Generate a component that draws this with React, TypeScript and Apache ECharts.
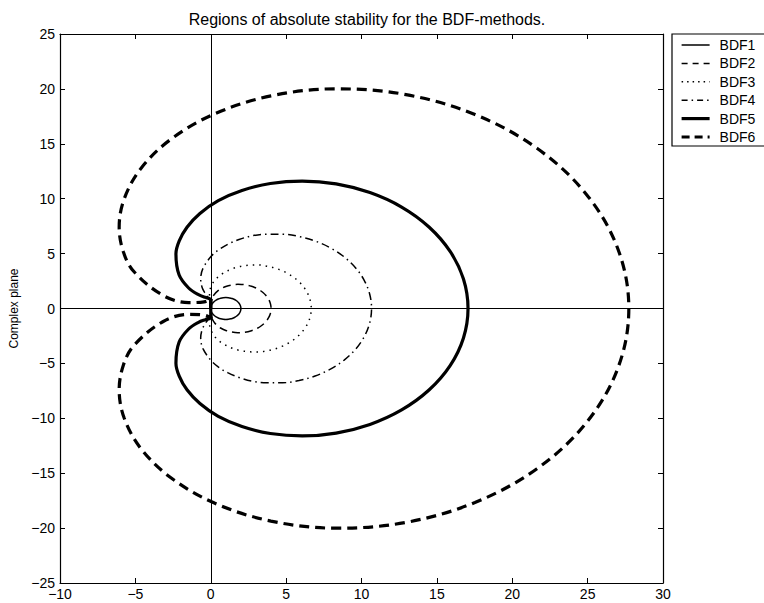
import React, { useEffect, useRef } from "react";
import * as echarts from "echarts";

// Upper half of each boundary-locus curve (x = Re, y = Im); the lower half is its mirror image.
const bdf1Upper: number[][] = [
  [0, 0], [0.0152, 0.1736], [0.0603, 0.342], [0.134, 0.5], [0.234, 0.6428], [0.3572, 0.766],
  [0.5, 0.866], [0.658, 0.9397], [0.8264, 0.9848], [1, 1], [1.1736, 0.9848], [1.342, 0.9397],
  [1.4226, 0.9063], [1.5, 0.866], [1.5736, 0.8192], [1.6428, 0.766], [1.7071, 0.7071], [1.766, 0.6428],
  [1.8192, 0.5736], [1.866, 0.5], [1.9063, 0.4226], [1.9397, 0.342], [1.9659, 0.2588], [1.9848, 0.1736],
  [1.9962, 0.0872], [2, 0],
];
const bdf2Upper: number[][] = [
  [0, 0], [0.0002, 0.1763], [0.0036, 0.3626], [0.018, 0.567], [0.0547, 0.7932], [0.1276, 1.0397],
  [0.25, 1.299], [0.4329, 1.558], [0.6829, 1.7986], [1, 2], [1.3774, 2.1406], [1.801, 2.2008],
  [2.0238, 2.1956], [2.25, 2.1651], [2.4761, 2.1081], [2.6988, 2.0245], [2.9142, 1.9142], [3.1189, 1.778],
  [3.3093, 1.617], [3.4821, 1.433], [3.634, 1.2283], [3.7624, 1.0054], [3.8649, 0.7676], [3.9396, 0.5183],
  [3.9848, 0.2611], [4, 0],
];
const bdf3Upper: number[][] = [
  [0, 0], [-0.0002, 0.1746], [-0.0033, 0.3505], [-0.0147, 0.5343], [-0.0377, 0.7398], [-0.0668, 0.9876],
  [-0.0833, 1.299], [-0.0531, 1.6882], [0.0695, 2.1527], [0.3333, 2.6667], [0.7781, 3.1788], [1.4216, 3.6166],
  [1.815, 3.7817], [2.25, 3.8971], [2.7191, 3.9533], [3.2126, 3.962], [3.7189, 3.857], [4.2253, 3.6942],
  [4.7175, 3.4522], [5.1814, 3.1324], [5.6027, 2.7389], [5.9681, 2.2789], [6.2659, 1.7621], [6.4861, 1.2006],
  [6.6211, 0.6082], [6.6667, 0],
];
const bdf4Upper: number[][] = [
  [0, 0], [0, 0.1745], [-0.0006, 0.3482], [-0.0057, 0.5187], [-0.0282, 0.6859], [-0.089, 0.8619],
  [-0.2083, 1.0825], [-0.3848, 1.41], [-0.5721, 1.9192], [-0.6667, 2.6667], [-0.5163, 3.6499], [0.042, 4.7743],
  [0.5141, 5.3321], [1.125, 5.8457], [1.8722, 6.2801], [2.7439, 6.6198], [3.7189, 6.7712], [4.7669, 6.7658],
  [5.8494, 6.562], [6.9224, 6.1479], [7.9386, 5.5227], [8.8503, 4.6973], [9.613, 3.6946], [10.188, 2.548],
  [10.5454, 1.3002], [10.6667, 0],
];
const bdf5Upper: number[][] = [
  [0, 0], [0, 0.1745], [0.0002, 0.3489], [0.0015, 0.5206], [0.0013, 0.6807], [-0.0183, 0.8124],
  [-0.1083, 0.9093], [-0.3501, 1.0142], [-0.8123, 1.2592], [-1.4667, 1.8667], [-2.1028, 3.0725], [-2.3095, 4.98],
  [-2.0905, 6.1533], [-1.575, 7.4045], [-0.7187, 8.6542], [0.4992, 9.8255], [2.0704, 10.7511], [3.9526, 11.3838],
  [6.0696, 11.607], [8.3153, 11.346], [10.5598, 10.5579], [12.661, 9.2387], [14.4769, 7.4268], [15.8788, 5.2017],
  [16.764, 2.6788], [17.0667, 0],
];
const bdf6Upper: number[][] = [
  [0, 0], [0, 0.1745], [0.0001, 0.3491], [0.0015, 0.5238], [0.0098, 0.6955], [0.0343, 0.8428],
  [0.0583, 0.9093], [-0.0212, 0.8242], [-0.4361, 0.6076], [-1.4667, 0.5333], [-3.1805, 1.2058], [-5.1004, 3.3687],
  [-5.7986, 5.1597], [-6.075, 7.4045], [-5.7369, 9.9989], [-4.6202, 12.7813], [-2.62, 15.4415], [0.2805, 17.7441],
  [3.9921, 19.3604], [8.3153, 20.0095], [12.9504, 19.4799], [17.5263, 17.6656], [21.6404, 14.5903], [24.9075, 10.4144],
  [27.0085, 5.4238], [27.7333, 0],
];

const seriesNames = ["BDF1", "BDF2", "BDF3", "BDF4", "BDF5", "BDF6"];
const xTicks = { min: -10, max: 30, interval: 5 };
const yTicks = { min: -25, max: 25, interval: 5 };
const titleText = "Regions of absolute stability for the BDF-methods.";
const yName = "Complex plane";

const FONT = "'Liberation Sans', Arial, Helvetica, sans-serif";

const closeCurve = (u: number[][]) => [
  ...u,
  ...u.slice(0, -1).reverse().map(([x, y]) => [x, -y]),
];

const minus = (v: number) => String(v).replace("-", "\u2212");

export default function App() {
  const ref = useRef<HTMLDivElement>(null);
  useEffect(() => {
    if (!ref.current) return;
    const chart = echarts.init(ref.current, null, { renderer: "svg" });
    const uppers = [bdf1Upper, bdf2Upper, bdf3Upper, bdf4Upper, bdf5Upper, bdf6Upper];
    const styles = [
      { width: 1.5, type: "solid" as any },
      { width: 1.5, type: [8, 5] as any },
      { width: 1.5, type: [1.5, 5] as any },
      { width: 1.5, type: [8, 4, 1.5, 4] as any },
      { width: 3.2, type: "solid" as any },
      { width: 3.2, type: [10, 6] as any },
    ];
    const legendStyles = [
      { width: 1.5, type: "solid" as any },
      { width: 1.5, type: [6, 5] as any },
      { width: 1.5, type: [1.5, 4] as any },
      { width: 1.5, type: [6, 4, 1.5, 4] as any },
      { width: 3.2, type: "solid" as any },
      { width: 3.2, type: [8, 5] as any },
    ];
    const axisCommon = {
      axisLine: { show: true, onZero: false, lineStyle: { color: "#000", width: 1.2 } },
      axisTick: { show: true, inside: true, length: 5, lineStyle: { color: "#000", width: 1 } },
      splitLine: { show: false },
    };
    const series: any[] = uppers.map((u, i) => ({
      name: seriesNames[i],
      type: "line",
      data: closeCurve(u),
      symbol: "none",
      showSymbol: false,
      smooth: 0.35,
      xAxisIndex: 0,
      yAxisIndex: 0,
      lineStyle: { color: "#000", width: styles[i].width, type: styles[i].type },
      itemStyle: { color: "#000" },
      z: 3,
    }));
    series[0].markLine = {
      silent: true,
      symbol: ["none", "none"],
      label: { show: false },
      lineStyle: { color: "#000", width: 1, type: "solid" },
      data: [{ xAxis: 0 }, { yAxis: 0 }],
    };
    chart.setOption({
      animation: false,
      backgroundColor: "#fff",
      textStyle: { fontFamily: FONT, color: "#000" },
      title: {
        text: titleText,
        left: 362,
        top: 6,
        textAlign: "center",
        textStyle: { fontFamily: FONT, fontSize: 16, fontWeight: "normal", color: "#000" },
      },
      grid: { left: 60, right: 101, top: 34, bottom: 20, containLabel: false, outerBoundsMode: "none" } as any,
      legend: {
        data: seriesNames.map((n, i) => ({
          name: n,
          lineStyle: { color: "#000", width: legendStyles[i].width, type: legendStyles[i].type },
        })),
        orient: "vertical",
        left: 672,
        top: 34,
        backgroundColor: "#fff",
        borderColor: "#000",
        borderWidth: 1.2,
        padding: [4, 30, 2, 8],
        itemWidth: 28,
        itemHeight: 14,
        itemGap: 4.4,
        itemStyle: { opacity: 0, color: "transparent", borderColor: "transparent", borderWidth: 0 },
        textStyle: { fontFamily: FONT, fontSize: 14, color: "#000", padding: [0, 0, 0, 5] },
      },
      xAxis: [
        {
          type: "value",
          position: "bottom",
          ...xTicks,
          ...axisCommon,
          axisLabel: { fontFamily: FONT, fontSize: 14, color: "#000", margin: 4, formatter: minus },
        },
        {
          type: "value",
          position: "top",
          ...xTicks,
          ...axisCommon,
          axisLabel: { show: false },
        },
      ],
      yAxis: [
        {
          type: "value",
          position: "left",
          ...yTicks,
          ...axisCommon,
          name: yName,
          nameLocation: "middle",
          nameRotate: 90,
          nameGap: 40,
          nameTextStyle: { fontFamily: FONT, fontSize: 12, color: "#000" },
          axisLabel: { fontFamily: FONT, fontSize: 14, color: "#000", margin: 5, formatter: minus },
        },
        {
          type: "value",
          position: "right",
          ...yTicks,
          ...axisCommon,
          axisLabel: { show: false },
        },
      ],
      series,
    });
    return () => chart.dispose();
  }, []);
  return (
    <div
      ref={ref}
      style={{ position: "fixed", left: 0, top: 0, width: 764, height: 603, background: "#fff" }}
    />
  );
}
